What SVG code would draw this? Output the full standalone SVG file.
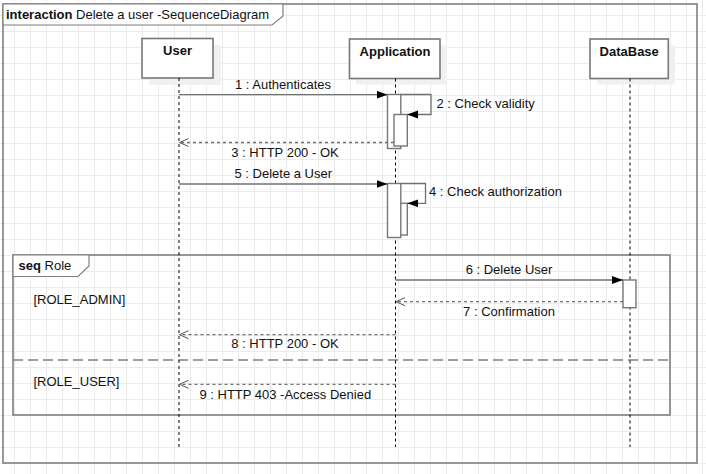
<svg xmlns="http://www.w3.org/2000/svg" width="706" height="474" viewBox="0 0 706 474">
<defs>
<pattern id="grid" x="14" y="15" width="16" height="16" patternUnits="userSpaceOnUse">
<path d="M0.5 0 V16 M0 0.5 H16" stroke="#ebebeb" stroke-width="1" fill="none"/>
</pattern>
<marker id="filled" markerUnits="userSpaceOnUse" markerWidth="12" markerHeight="10" refX="11" refY="4" orient="auto">
<path d="M0,0 L11,4 L0,8 z" fill="#000"/>
</marker>
<marker id="open" markerUnits="userSpaceOnUse" markerWidth="12" markerHeight="12" refX="9.5" refY="4.5" orient="auto" overflow="visible">
<path d="M0.5,0.5 L9.5,4.5 L0.5,8.5" fill="none" stroke="#555" stroke-width="1"/>
</marker>
</defs>
<style>
text{font-family:"Liberation Sans",Arial,sans-serif;font-size:13px;fill:#111}
.b{font-weight:bold}
.mid{text-anchor:middle}
.frame{fill:none;stroke:#7f7f7f;stroke-width:1.6}
.tab{fill:#fff;stroke:#7f7f7f;stroke-width:1.2}
.box{fill:#fff;stroke:#777;stroke-width:1.6}
.shadow{fill:#f0f0f0}
.life{stroke:#000;stroke-width:1;stroke-dasharray:3,3;fill:none}
.act{fill:#fff;stroke:#777;stroke-width:1.4}
.msg{stroke:#707070;stroke-width:1.3;fill:none}
.ret{stroke:#707070;stroke-width:1.3;fill:none;stroke-dasharray:3,3}
.sep{stroke:#7f7f7f;stroke-width:1.6;stroke-dasharray:10,5;fill:none}
</style>
<rect width="706" height="474" fill="#fff"/>
<rect width="706" height="474" fill="url(#grid)"/>

<g id="frame-interaction">
<rect class="frame" x="3" y="4" width="694" height="459"/>
<path class="tab" d="M3,4 H283 V16 L272,25 H3 Z"/>
<text x="6" y="18.5"><tspan class="b">interaction</tspan> Delete a user -SequenceDiagram</text>
</g>

<g id="frame-seq">
<rect class="frame" x="13" y="255" width="657" height="160"/>
<path class="tab" d="M13,255 H89 V266 L78,276.5 H13 Z"/>
<text x="18.5" y="269.5"><tspan class="b">seq</tspan> Role</text>
<text x="33.5" y="304">[ROLE_ADMIN]</text>
<line class="sep" x1="13" y1="360" x2="670" y2="360"/>
<text x="33.5" y="386">[ROLE_USER]</text>
</g>

<g id="user">
<rect class="shadow" x="149" y="45" width="72" height="40"/>
<rect class="box" x="142" y="38.5" width="71" height="39.5"/>
<text class="b mid" x="177.5" y="55">User</text>
<line class="life" x1="179" y1="78" x2="179" y2="447"/>
</g>

<g id="application">
<rect class="shadow" x="356" y="45.5" width="91" height="39"/>
<rect class="box" x="349.5" y="39" width="90.5" height="39.5"/>
<text class="b mid" x="395" y="56">Application</text>
<line class="life" x1="395.5" y1="78.5" x2="395.5" y2="447"/>
<rect class="act" x="387.5" y="94.5" width="13.3" height="54"/>
<rect class="act" x="394" y="114.5" width="13.3" height="31.5"/>
<rect class="act" x="394" y="203.3" width="13.3" height="31.7"/>
<rect class="act" x="387.5" y="183.5" width="13.3" height="54"/>
</g>

<g id="database">
<rect class="shadow" x="597" y="45.5" width="78" height="39"/>
<rect class="box" x="590" y="39" width="78.3" height="39.5"/>
<text class="b mid" x="629.2" y="56">DataBase</text>
<line class="life" x1="630" y1="78.5" x2="630" y2="447"/>
<rect class="act" x="623" y="280" width="13" height="27.7"/>
</g>

<g id="connectors">
<line class="msg" x1="179" y1="94.7" x2="387.5" y2="94.7" marker-end="url(#filled)"/>
<text class="mid" x="283" y="89">1 : Authenticates</text>
<polyline class="msg" points="400.8,94.5 431,94.5 431,114.5 407.3,114.5" marker-end="url(#filled)"/>
<text x="436.5" y="107.5">2 : Check validity</text>
<line class="ret" x1="394" y1="142.5" x2="179.5" y2="142.5" marker-end="url(#open)"/>
<text class="mid" x="285" y="157">3 : HTTP 200 - OK</text>
<line class="msg" x1="179" y1="184" x2="387.5" y2="184" marker-end="url(#filled)"/>
<text class="mid" x="283.3" y="178">5 : Delete a User</text>
<polyline class="msg" points="400.8,183.5 425.5,183.5 425.5,203.3 407.3,203.3" marker-end="url(#filled)"/>
<text x="429" y="196">4 : Check authorization</text>
<line class="msg" x1="395.5" y1="280" x2="623" y2="280" marker-end="url(#filled)"/>
<text class="mid" x="509" y="274.3">6 : Delete User</text>
<line class="ret" x1="623" y1="301.7" x2="396" y2="301.7" marker-end="url(#open)"/>
<text class="mid" x="509" y="315.7">7 : Confirmation</text>
<line class="ret" x1="395.5" y1="334.7" x2="179.5" y2="334.7" marker-end="url(#open)"/>
<text class="mid" x="285" y="348.3">8 : HTTP 200 - OK</text>
<line class="ret" x1="395.5" y1="384.3" x2="179.5" y2="384.3" marker-end="url(#open)"/>
<text class="mid" x="285.3" y="398.7">9 : HTTP 403 -Access Denied</text>
</g>
</svg>
